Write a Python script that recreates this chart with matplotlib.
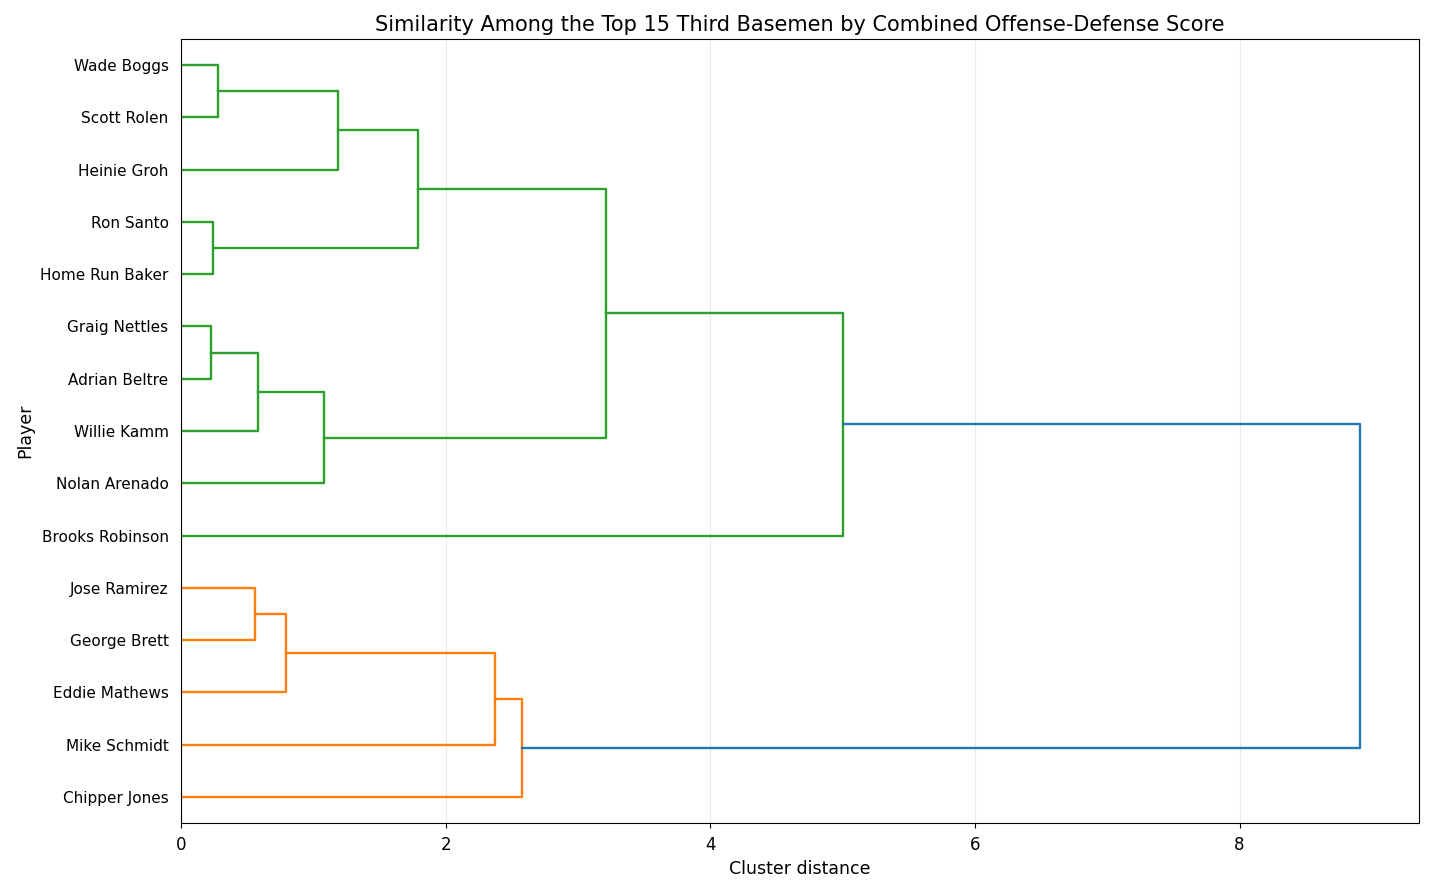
import numpy as np
import matplotlib
matplotlib.use("Agg")
import matplotlib.pyplot as plt

# players, top to bottom as shown
players = ['Wade Boggs', 'Scott Rolen', 'Heinie Groh', 'Ron Santo', 'Home Run Baker',
           'Graig Nettles', 'Adrian Beltre', 'Willie Kamm', 'Nolan Arenado', 'Brooks Robinson',
           'Jose Ramirez', 'George Brett', 'Eddie Mathews', 'Mike Schmidt', 'Chipper Jones']

# merges: node ids 0..14 are players, each merge creates node 15, 16, ...
merge_left = [0, 3, 5, 10, 17, 18, 19, 15, 22, 20, 24, 23, 26, 27]
merge_right = [1, 4, 6, 11, 7, 12, 8, 2, 16, 13, 14, 21, 9, 25]
merge_height = [0.28, 0.24, 0.23, 0.56, 0.585, 0.79, 1.08, 1.19, 1.79, 2.37, 2.58, 3.21, 5.00, 8.91]

n = len(players)
max_h = max(merge_height)
color_threshold = 0.7 * max_h

# leaf positions like scipy (5, 15, 25, ... from the bottom)
ypos = {i: 5 + 10 * (n - 1 - i) for i in range(n)}
hpos = {i: 0.0 for i in range(n)}
children = {}
for k, (a, b, h) in enumerate(zip(merge_left, merge_right, merge_height)):
    node = n + k
    ypos[node] = (ypos[a] + ypos[b]) / 2
    hpos[node] = h
    children[node] = (a, b)

# colour clusters below threshold, bottom cluster first
palette = ['C1', 'C2', 'C3', 'C4']
node_color = {}
cluster_roots = []

def find_clusters(node):
    if node < n:
        return
    if hpos[node] < color_threshold:
        cluster_roots.append(node)
    else:
        a, b = children[node]
        find_clusters(a)
        find_clusters(b)

root = n + len(merge_height) - 1
find_clusters(root)
cluster_roots.sort(key=lambda c: ypos[c])

def paint(node, col):
    if node < n:
        return
    node_color[node] = col
    for c in children[node]:
        paint(c, col)

for i, c in enumerate(cluster_roots):
    paint(c, palette[i])

fig = plt.figure(figsize=(14.31, 8.89), dpi=100)
ax = fig.add_axes([0.1265, 0.0742, 0.8651, 0.8819])

for node, (a, b) in children.items():
    h = hpos[node]
    xs = [hpos[a], h, h, hpos[b]]
    ys = [ypos[a], ypos[a], ypos[b], ypos[b]]
    ax.plot(xs, ys, color=node_color.get(node, 'C0'), linewidth=1.7)

ax.set_xlim(0, max_h * 1.05)
ax.set_ylim(0, 10 * n)
ax.set_yticks([ypos[i] for i in range(n)])
ax.set_yticklabels(players, fontsize=11)
ax.tick_params(axis='y', length=0, pad=9)
ax.tick_params(axis='x', labelsize=12, pad=6)
ax.grid(axis='x', color='#dddddd', linewidth=0.8, alpha=0.6)
ax.set_axisbelow(True)

ax.set_xlabel('Cluster distance', fontsize=12.5)
ax.set_ylabel('Player', fontsize=12.5)
ax.set_title('Similarity Among the Top 15 Third Basemen by Combined Offense-Defense Score', fontsize=15)

fig.savefig('out.png', dpi=100)
